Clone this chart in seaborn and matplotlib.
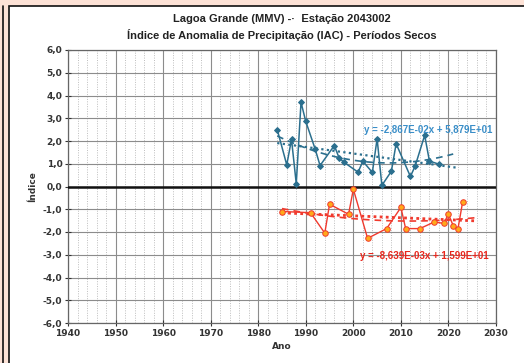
import numpy as np
import pandas as pd
import matplotlib
matplotlib.use("Agg")
import matplotlib.pyplot as plt
from matplotlib.patches import Rectangle
from matplotlib.ticker import MultipleLocator, FuncFormatter
import seaborn as sns

# Wet-period anomaly index (positive values)
wet_years = [1984, 1986, 1987, 1988, 1989, 1990, 1992, 1993, 1996, 1997, 1998,
             2001, 2002, 2004, 2005, 2006, 2008, 2009, 2012, 2013, 2015, 2016, 2018]
wet_values = [2.50, 0.95, 2.07, 0.12, 3.70, 2.86, 1.63, 0.92, 1.80, 1.26, 1.07,
              0.63, 1.11, 0.62, 2.10, 0.05, 0.67, 1.88, 0.44, 0.90, 2.25, 1.12, 0.98]

# Dry-period anomaly index (negative values)
dry_years = [1985, 1991, 1994, 1995, 1999, 2000, 2003, 2007, 2010, 2011, 2014,
             2017, 2019, 2020, 2021, 2022, 2023]
dry_values = [-1.10, -1.15, -2.05, -0.78, -1.22, -0.12, -2.28, -1.85, -0.92, -1.85,
              -1.85, -1.56, -1.62, -1.22, -1.72, -1.86, -0.66]

# Linear trend coefficients (slope, intercept)
wet_trend = (-2.867e-02, 5.879e+01)
dry_trend = (-8.639e-03, 1.599e+01)

title_1 = "Lagoa Grande (MMV) -·  Estação 2043002"
title_2 = "Índice de Anomalia de Precipitação (IAC) - Períodos Secos"
wet_label = "y = -2,867E-02x + 5,879E+01"
dry_label = "y = -8,639E-03x + 1,599E+01"

sns.set_theme(style="white")
plt.rcParams["font.family"] = ["Liberation Sans Narrow", "Liberation Sans", "DejaVu Sans"]

fig = plt.figure(figsize=(5.24, 3.63), dpi=100)
fig.patch.set_facecolor("#fde2d6")

# White chart panel with black frame lines (top and left only visible)
fig.add_artist(Rectangle((9 / 524, -0.2), 1.2, 1.2 - 6 / 363, transform=fig.transFigure,
                         facecolor="white", edgecolor="#111111", linewidth=1.2, zorder=0))
fig.add_artist(plt.Line2D([2.5 / 524, 2.5 / 524], [0, 1 - 6 / 363], transform=fig.transFigure,
                          color="#111111", linewidth=1.2))

ax = fig.add_axes([68 / 524, 1 - 323 / 363, 428 / 524, 273 / 363])
ax.set_facecolor("white")

wet = pd.DataFrame({"Ano": wet_years, "IAC": wet_values})
dry = pd.DataFrame({"Ano": dry_years, "IAC": dry_values})

blue = "#2b6f8e"
red = "#f03a2e"

sns.lineplot(data=wet, x="Ano", y="IAC", ax=ax, color=blue, linewidth=1.1,
             marker="D", markersize=3, markeredgecolor=blue, markerfacecolor=blue, zorder=5)
sns.lineplot(data=dry, x="Ano", y="IAC", ax=ax, color=red, linewidth=1.0,
             marker="o", markersize=4, markeredgecolor=red, markerfacecolor="#ffaa1a",
             markeredgewidth=0.7, zorder=5)

# Trend lines: linear (dotted) and 2nd-order polynomial (dashed)
xw = np.linspace(min(wet_years), max(wet_years) + 4, 100)
ax.plot(xw, wet_trend[0] * xw + wet_trend[1], color=blue, linestyle=(0, (1, 1.5)), linewidth=1.6, zorder=4)
pw = np.polyfit(wet_years, wet_values, 2)
xw2 = np.linspace(min(wet_years), max(wet_years) + 3, 100)
ax.plot(xw2, np.polyval(pw, xw2), color=blue, linestyle=(0, (4, 3)), linewidth=1.2, zorder=4)

xd = np.linspace(min(dry_years), max(dry_years) + 3, 100)
ax.plot(xd, dry_trend[0] * xd + dry_trend[1], color=red, linestyle=(0, (1, 1.2)), linewidth=2.0, zorder=4)
pd2 = np.polyfit(dry_years, dry_values, 2)
ax.plot(xd, np.polyval(pd2, xd), color=red, linestyle=(0, (4, 3)), linewidth=1.2, zorder=4)

# Zero reference line
ax.axhline(0, color="#111111", linewidth=1.8, zorder=3)

ax.set_xlim(1940, 2030)
ax.set_ylim(-6, 6)
ax.xaxis.set_major_locator(MultipleLocator(10))
ax.xaxis.set_minor_locator(MultipleLocator(2))
ax.yaxis.set_major_locator(MultipleLocator(1))
ax.yaxis.set_minor_locator(MultipleLocator(0.2))
ax.yaxis.set_major_formatter(FuncFormatter(lambda v, p: f"{v:.1f}".replace(".", ",")))

ax.grid(which="major", axis="both", color="#8c8c8c", linewidth=0.8)
ax.grid(which="minor", axis="x", color="#bdbdbd", linestyle=(0, (1, 1.5)), linewidth=0.7)
ax.set_axisbelow(True)

for s in ax.spines.values():
    s.set_color("#666666")
    s.set_linewidth(0.9)

ax.tick_params(axis="both", which="major", labelsize=6.5, colors="#333333", length=4,
               width=0.8, direction="inout", pad=2)
ax.tick_params(axis="x", which="minor", direction="in", length=3, width=0.8, color="#333333")
ax.tick_params(axis="y", which="minor", direction="inout", length=3, width=0.6, color="#333333")
ax.tick_params(left=True, bottom=True)
for lab in ax.get_xticklabels() + ax.get_yticklabels():
    lab.set_fontweight("bold")
    lab.set_fontfamily(["DejaVu Sans"])

ax.set_xlabel("Ano", fontsize=6.5, fontweight="bold", color="#333333", labelpad=3,
              fontfamily=["DejaVu Sans"])
ax.set_ylabel("Índice", fontsize=6.5, fontweight="bold", color="#333333", labelpad=4,
              fontfamily=["DejaVu Sans"])

ax.text(2002.3, 2.5, wet_label, color="#3a8ec8", fontsize=7, fontweight="bold", va="center", zorder=6)
ax.text(2001.5, -3.05, dry_label, color="#e8261c", fontsize=7, fontweight="bold", va="center", zorder=6)

fig.text(282 / 524, 1 - 19 / 363, title_1, ha="center", va="center", fontsize=8, fontweight="bold", color="#222222")
fig.text(282 / 524, 1 - 35 / 363, title_2, ha="center", va="center", fontsize=8, fontweight="bold", color="#222222")

fig.savefig("out.png", dpi=100, facecolor=fig.get_facecolor())
